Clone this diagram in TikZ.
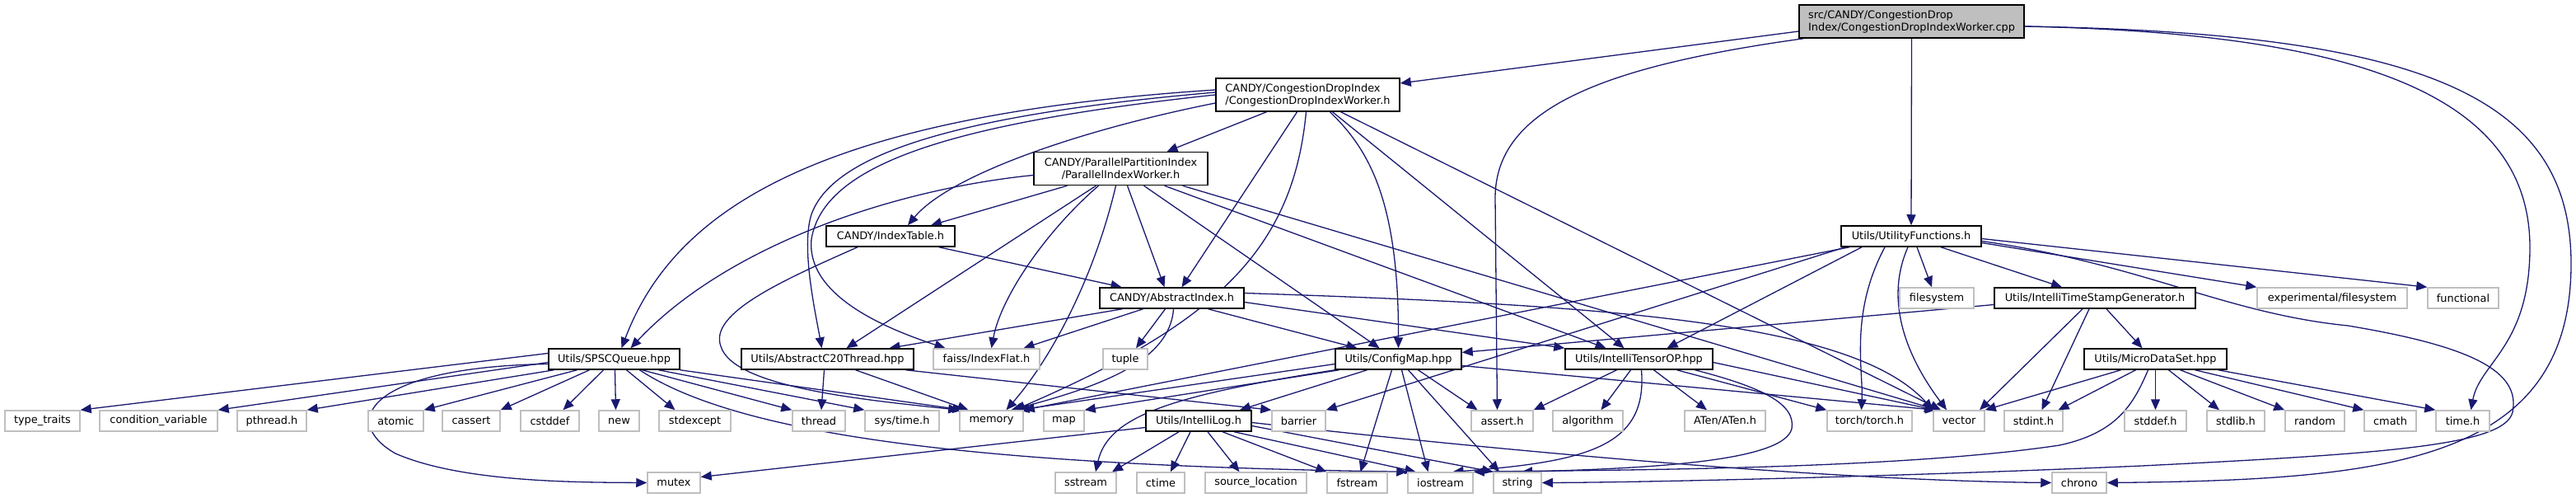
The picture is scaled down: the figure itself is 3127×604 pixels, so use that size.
\documentclass[tikz,border=0pt]{standalone}
\usepackage{fontspec}
\setmainfont{DejaVu Sans}
\usetikzlibrary{arrows.meta}
\definecolor{edgeblue}{HTML}{191970}
\definecolor{boxgray}{HTML}{BFBFBF}
\pgfdeclarelayer{back}
\pgfsetlayers{back,main}
\tikzset{
  wd/.style={minimum width=#1pt},
  box/.style={rectangle,inner sep=0pt,minimum height=25pt,line width=1.5pt,
    font=\fontsize{12.9pt}{15pt}\selectfont},
  hdr/.style={box,draw=black,fill=white},
  sys/.style={box,draw=boxgray,fill=white},
  dep/.style={draw=edgeblue,line width=1.3pt,-{Triangle[length=13pt,width=11pt]}}
}
\begin{document}
\begin{tikzpicture}[x=1pt,y=-1pt]
  \useasboundingbox (0,0) rectangle (3127,604);

  % headers of the project
  \node[hdr,fill=boxgray,wd=273,minimum height=40pt,align=left] (root) at (2320.5,26)
    {src/CANDY/CongestionDrop\\Index/CongestionDropIndexWorker.cpp};
  \node[hdr,wd=223,minimum height=40pt,align=left] (cdiw) at (1587.5,115)
    {CANDY/CongestionDropIndex\\/CongestionDropIndexWorker.h};
  \node[hdr,wd=211,minimum height=40pt,align=center] (piw) at (1360.5,204.5)
    {CANDY/ParallelPartitionIndex\\/ParallelIndexWorker.h};
  \node[hdr,wd=156] (itable) at (1081,286.5) {CANDY/IndexTable.h};
  \node[hdr,wd=170] (ufunc) at (2320,286.5) {Utils/UtilityFunctions.h};
  \node[hdr,wd=175] (aidx) at (1422.5,361.5) {CANDY/AbstractIndex.h};
  \node[hdr,wd=244] (itsg) at (2543,361.5) {Utils/IntelliTimeStampGenerator.h};
  \node[hdr,wd=159] (spsc) at (745.5,435.5) {Utils/SPSCQueue.hpp};
  \node[hdr,wd=209] (c20) at (1004.5,435.5) {Utils/AbstractC20Thread.hpp};
  \node[hdr,wd=153] (cmap) at (1697.5,435.5) {Utils/ConfigMap.hpp};
  \node[hdr,wd=179] (itop) at (1989.5,435.5) {Utils/IntelliTensorOP.hpp};
  \node[hdr,wd=173] (mds) at (2616.5,435.5) {Utils/MicroDataSet.hpp};
  \node[hdr,wd=128] (ilog) at (1455,510.5) {Utils/IntelliLog.h};

  % system and library headers
  \node[sys,wd=90] (fsys) at (2351,361.5) {filesystem};
  \node[sys,wd=182] (expfs) at (2831,361.5) {experimental/filesystem};
  \node[sys,wd=86] (func) at (2990,361.5) {functional};
  \node[sys,wd=129] (faiss) at (1197.5,435.5) {faiss/IndexFlat.h};
  \node[sys,wd=54] (tuple) at (1366,435.5) {tuple};
  \node[sys,wd=91] (ttraits) at (51.5,510.5) {type\_traits};
  \node[sys,wd=143] (condvar) at (192.5,510.5) {condition\_variable};
  \node[sys,wd=84] (pthr) at (330,510.5) {pthread.h};
  \node[sys,wd=67] (atomic) at (480.5,510.5) {atomic};
  \node[sys,wd=70] (cassert) at (572,510.5) {cassert};
  \node[sys,wd=71] (cstddef) at (667.5,510.5) {cstddef};
  \node[sys,wd=49] (nnew) at (751.5,510.5) {new};
  \node[sys,wd=87] (stdexc) at (843.5,510.5) {stdexcept};
  \node[sys,wd=64] (thread) at (994,510.5) {thread};
  \node[sys,wd=90] (systime) at (1095,510.5) {sys/time.h};
  \node[sys,wd=77] (memory) at (1203.5,510.5) {memory};
  \node[sys,wd=49] (map) at (1291.5,510.5) {map};
  \node[sys,wd=65] (barrier) at (1576.5,510.5) {barrier};
  \node[sys,wd=75] (asserth) at (1823.5,510.5) {assert.h};
  \node[sys,wd=85] (algo) at (1927.5,510.5) {algorithm};
  \node[sys,wd=98] (aten) at (2094,510.5) {ATen/ATen.h};
  \node[sys,wd=103] (torch) at (2269.5,510.5) {torch/torch.h};
  \node[sys,wd=62] (vector) at (2378,510.5) {vector};
  \node[sys,wd=71] (stdint) at (2468.5,510.5) {stdint.h};
  \node[sys,wd=75] (stddef) at (2616.5,510.5) {stddef.h};
  \node[sys,wd=70] (stdlib) at (2714,510.5) {stdlib.h};
  \node[sys,wd=72] (random) at (2810,510.5) {random};
  \node[sys,wd=63] (cmath) at (2901.5,510.5) {cmath};
  \node[sys,wd=65] (timeh) at (2989.5,510.5) {time.h};
  \node[sys,wd=64] (mutex) at (818,585.5) {mutex};
  \node[sys,wd=74] (sstream) at (1318,585.5) {sstream};
  \node[sys,wd=58] (ctime) at (1409,585.5) {ctime};
  \node[sys,wd=123] (srcloc) at (1524.5,585.5) {source\_location};
  \node[sys,wd=73] (fstream) at (1647.5,585.5) {fstream};
  \node[sys,wd=79] (iostream) at (1748.5,585.5) {iostream};
  \node[sys,wd=58] (string) at (1842,585.5) {string};
  \node[sys,wd=66] (chrono) at (2524,585.5) {chrono};

  \begin{pgfonlayer}{back}
  % root
  \draw[dep] ([yshift=-12pt]root.west) -- ([yshift=14pt]cdiw.east);
  \draw[dep] (root.south) -- (ufunc.north);
  \draw[dep] ([xshift=6pt]root.south west) .. controls (1950,80) and (1815,130) .. (1815,240) -- ([xshift=-6pt]asserth.north);
  \draw[dep] ([yshift=-6pt]root.east) .. controls (2850,40) and (3071,110) .. (3071,300) .. controls (3071,420) and (3010,440) .. ([xshift=10pt]timeh.north);
  \draw[dep] ([yshift=-6pt]root.east) .. controls (2950,40) and (3121,120) .. (3121,320) .. controls (3121,560) and (2900,582) .. (chrono.east);

  % CongestionDropIndexWorker.h
  \draw[dep] ([xshift=-50pt]cdiw.south) -- ([xshift=56pt]piw.north);
  \draw[dep] ([yshift=6pt]cdiw.west) .. controls (1000,140) and (820,250) .. ([xshift=9pt]spsc.north);
  \draw[dep] ([yshift=3pt]cdiw.west) .. controls (1150,140) and (1010,190) .. (985,260) .. controls (972,300) and (990,380) .. ([xshift=-7pt]c20.north);
  \draw[dep] (cdiw.west) .. controls (1150,150) and (1000,200) .. (985,290) .. controls (978,360) and (1080,400) .. ([xshift=-50pt]faiss.north);
  \draw[dep] ([yshift=-10pt]cdiw.west) .. controls (1300,160) and (1150,215) .. ([xshift=21pt]itable.north);
  \draw[dep] ([xshift=-13pt]cdiw.south) -- ([xshift=12pt]aidx.north);
  \draw[dep] ([xshift=-2pt]cdiw.south) .. controls (1570,300) and (1480,390) .. ([xshift=28pt]memory.north);
  \draw[dep] ([xshift=27pt]cdiw.south) .. controls (1660,180) and (1698,240) .. (cmap.north);
  \draw[dep] ([xshift=30pt]cdiw.south) -- ([xshift=-18pt]itop.north);
  \draw[dep] ([xshift=40pt]cdiw.south) -- ([xshift=-22pt]vector.north);

  % ParallelIndexWorker.h
  \draw[dep] ([yshift=-8pt]piw.west) .. controls (1080,230) and (880,300) .. ([xshift=20pt]spsc.north);
  \draw[dep] ([xshift=-65pt]piw.south) -- ([xshift=49pt]itable.north);
  \draw[dep] ([xshift=-30pt]piw.south) -- ([xshift=23pt]c20.north);
  \draw[dep] ([xshift=-27pt]piw.south) .. controls (1270,280) and (1215,360) .. ([xshift=6pt]faiss.north);
  \draw[dep] ([xshift=-6pt]piw.south) .. controls (1330,330) and (1280,430) .. ([xshift=18pt]memory.north);
  \draw[dep] ([xshift=8pt]piw.south) -- ([xshift=-9pt]aidx.north);
  \draw[dep] ([xshift=28pt]piw.south) -- ([xshift=-23pt]cmap.north);
  \draw[dep] ([xshift=53pt]piw.south) -- ([xshift=-40pt]itop.north);
  \draw[dep] ([xshift=75pt]piw.south) -- ([xshift=-26pt]vector.north);

  % IndexTable.h, AbstractIndex.h
  \draw[dep] ([xshift=-20pt]itable.south east) -- ([xshift=-61pt]aidx.north);
  \draw[dep] ([xshift=-40pt]itable.south) .. controls (950,340) and (860,380) .. (875,420) .. controls (890,470) and (1050,485) .. (memory.north west);
  \draw[dep] ([xshift=-60pt]aidx.south) -- ([xshift=75pt]c20.north);
  \draw[dep] ([xshift=-35pt]aidx.south) -- ([xshift=45pt]faiss.north);
  \draw[dep] ([xshift=-8pt]aidx.south) -- ([xshift=13pt]tuple.north);
  \draw[dep] ([xshift=2pt]aidx.south) .. controls (1420,440) and (1330,470) .. ([xshift=24pt]memory.north);
  \draw[dep] ([xshift=44pt]aidx.south) -- ([xshift=-50pt]cmap.north);
  \draw[dep] ([yshift=-5pt]aidx.east) -- (itop.north west);
  \draw[dep] ([yshift=6pt]aidx.east) .. controls (1950,370) and (2250,390) .. (vector.north west);

  % AbstractC20Thread.hpp
  \draw[dep] ([xshift=-4pt]c20.south) -- ([xshift=3pt]thread.north);
  \draw[dep] ([xshift=34pt]c20.south) -- ([xshift=-28pt]memory.north);
  \draw[dep] ([xshift=95pt]c20.south) -- (barrier.north west);

  % SPSCQueue.hpp
  \draw[dep] ([yshift=7pt]spsc.west) -- (ttraits.north east);
  \draw[dep] ([yshift=-4pt]spsc.west) -- (condvar.north east);
  \draw[dep] ([xshift=-73pt]spsc.south) -- (pthr.north east);
  \draw[dep] ([xshift=-45pt]spsc.south) -- (atomic.north east);
  \draw[dep] ([xshift=-30pt]spsc.south) -- (cassert.north east);
  \draw[dep] ([xshift=-13pt]spsc.south) -- ([xshift=16pt]cstddef.north);
  \draw[dep] ([xshift=1pt]spsc.south) -- ([xshift=-4pt]nnew.north);
  \draw[dep] ([xshift=15pt]spsc.south) -- ([xshift=-24pt]stdexc.north);
  \draw[dep] ([xshift=34pt]spsc.south) -- (thread.north west);
  \draw[dep] ([xshift=54pt]spsc.south) -- (systime.north west);
  \draw[dep] (spsc.south east) -- ([xshift=-34pt]memory.north);
  \draw[dep] ([xshift=31pt]spsc.south) .. controls (900,530) and (1200,565) .. (iostream.north west);
  \draw[dep] ([yshift=-6pt]spsc.west) .. controls (450,445) and (410,510) .. (480,550) .. controls (560,585) and (700,585) .. (mutex.west);

  % UtilityFunctions.h
  \draw[dep] ([xshift=7pt]ufunc.south) -- ([xshift=-6pt]fsys.north);
  \draw[dep] ([xshift=36pt]ufunc.south) -- ([xshift=-40pt]itsg.north);
  \draw[dep] ([yshift=-8pt]ufunc.east) -- (expfs.north west);
  \draw[dep] ([yshift=-3pt]ufunc.east) -- (func.north west);
  \draw[dep] ([xshift=-4pt]ufunc.south) .. controls (2285,370) and (2320,440) .. ([xshift=-15pt]vector.north);
  \draw[dep] ([xshift=-32pt]ufunc.south) .. controls (2245,380) and (2262,450) .. ([xshift=-10pt]torch.north);
  \draw[dep] ([xshift=-60pt]ufunc.south) -- ([xshift=34pt]itop.north);
  \draw[dep] ([xshift=-75pt]ufunc.south) -- (memory.north east);
  \draw[dep] ([xshift=-80pt]ufunc.south) -- (barrier.north east);
  \draw[dep] ([yshift=-6pt]ufunc.east) .. controls (2600,320) and (2700,380) .. (2850,395) .. controls (3000,420) and (3060,450) .. (3050,500) .. controls (3040,540) and (2900,550) .. (2600,565) .. controls (2300,578) and (2000,585) .. (string.east);

  % IntelliTimeStampGenerator.h, MicroDataSet.hpp
  \draw[dep] ([yshift=-8pt]itsg.west) -- ([yshift=8pt]cmap.east);
  \draw[dep] ([xshift=-15pt]itsg.south) -- ([xshift=25pt]vector.north);
  \draw[dep] ([xshift=-7pt]itsg.south) -- ([xshift=10pt]stdint.north);
  \draw[dep] ([xshift=14pt]itsg.south) -- ([xshift=-16pt]mds.north);
  \draw[dep] ([xshift=-42pt]mds.south) -- (vector.north east);
  \draw[dep] ([xshift=-24pt]mds.south) -- ([xshift=30pt]stdint.north);
  \draw[dep] (mds.south) -- (stddef.north);
  \draw[dep] ([xshift=16pt]mds.south) -- ([xshift=-20pt]stdlib.north);
  \draw[dep] ([xshift=30pt]mds.south) -- (random.north west);
  \draw[dep] ([xshift=48pt]mds.south) -- (cmath.north west);
  \draw[dep] ([xshift=76pt]mds.south) -- (timeh.north west);
  \draw[dep] ([xshift=-9pt]mds.south) .. controls (2590,490) and (2570,525) .. (2500,540) .. controls (2300,570) and (1950,570) .. (iostream.north east);

  % IntelliTensorOP.hpp
  \draw[dep] ([xshift=-27pt]itop.south) -- (asserth.north east);
  \draw[dep] ([xshift=-10pt]itop.south) -- ([xshift=16pt]algo.north);
  \draw[dep] ([xshift=18pt]itop.south) -- ([xshift=-22pt]aten.north);
  \draw[dep] ([xshift=46pt]itop.south) -- (torch.north west);
  \draw[dep] ([yshift=-4pt]itop.east) -- ([xshift=-29pt]vector.north);
  \draw[dep] ([xshift=3pt]itop.south) .. controls (2000,540) and (1930,560) .. ([xshift=15pt]iostream.north);
  \draw[dep] ([xshift=68pt]itop.south) .. controls (2140,470) and (2180,490) .. (2175,520) .. controls (2165,560) and (2000,568) .. ([xshift=5pt]string.north);

  % ConfigMap.hpp
  \draw[dep] ([xshift=-72pt]cmap.south) -- (map.north east);
  \draw[dep] ([yshift=-6pt]cmap.west) -- ([xshift=33pt]memory.north);
  \draw[dep] ([xshift=-38pt]cmap.south) -- ([xshift=50pt]ilog.north);
  \draw[dep] (cmap.south west) .. controls (1420,480) and (1345,505) .. ([xshift=12pt]sstream.north);
  \draw[dep] ([xshift=-8pt]cmap.south) -- ([xshift=4pt]fstream.north);
  \draw[dep] ([xshift=4pt]cmap.south) -- ([xshift=-15pt]iostream.north);
  \draw[dep] ([xshift=12pt]cmap.south) -- ([xshift=-22pt]string.north);
  \draw[dep] ([xshift=24pt]cmap.south) -- ([xshift=-30pt]asserth.north);
  \draw[dep] ([yshift=-8pt]cmap.east) -- ([xshift=-28pt]vector.north);

  % IntelliLog.h
  \draw[dep] ([yshift=-8pt]ilog.west) -- ([yshift=7pt]mutex.east);
  \draw[dep] ([xshift=-24pt]ilog.south) -- ([xshift=32pt]sstream.north);
  \draw[dep] ([xshift=-10pt]ilog.south) -- ([xshift=12pt]ctime.north);
  \draw[dep] ([xshift=11pt]ilog.south) -- ([xshift=-20pt]srcloc.north);
  \draw[dep] ([xshift=29pt]ilog.south) -- (fstream.north west);
  \draw[dep] ([xshift=43pt]ilog.south) -- ([xshift=-30pt]iostream.north);
  \draw[dep] ([yshift=-6pt]ilog.east) -- (string.north west);
  \draw[dep] ([yshift=-2pt]ilog.east) .. controls (1900,555) and (2250,583) .. (chrono.west);
  \end{pgfonlayer}
\end{tikzpicture}
\end{document}
